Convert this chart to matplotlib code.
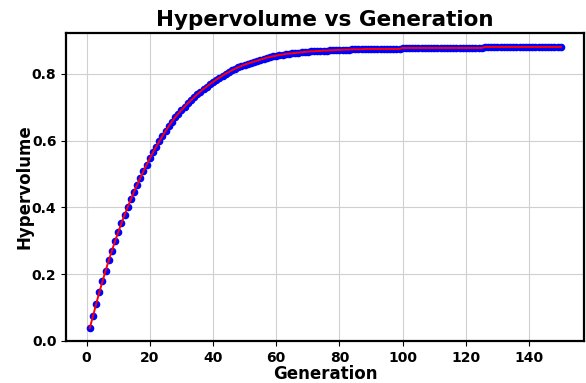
import matplotlib
matplotlib.use("Agg")
import matplotlib.pyplot as plt
import numpy as np

# hypervolume per generation
hv_early = [0.038, 0.074, 0.110, 0.145, 0.178, 0.210, 0.241, 0.270, 0.299, 0.326,
            0.352, 0.377, 0.401, 0.424, 0.447, 0.468, 0.489, 0.509, 0.528, 0.547,
            0.565, 0.582, 0.598, 0.614, 0.629, 0.643, 0.657, 0.670, 0.681, 0.692,
            0.702, 0.712, 0.721, 0.730, 0.739, 0.747, 0.755, 0.762, 0.769, 0.776]
hv_mid = [0.783, 0.789, 0.795, 0.801, 0.806, 0.811, 0.816, 0.820, 0.824, 0.828,
          0.831, 0.834, 0.837, 0.840, 0.843, 0.846, 0.849, 0.851, 0.853, 0.855,
          0.857, 0.858, 0.860, 0.861, 0.862, 0.863, 0.864, 0.865, 0.866, 0.867,
          0.868, 0.868, 0.869, 0.869, 0.870, 0.870, 0.871, 0.871, 0.872, 0.872]
hv_late = [0.873, 0.873, 0.873, 0.874, 0.874, 0.874, 0.874, 0.875, 0.875, 0.875,
           0.875, 0.875, 0.875, 0.875, 0.875, 0.875, 0.875, 0.875, 0.875]
hv_plateau1 = [0.878] * 26   # generations 100-125
hv_plateau2 = [0.881] * 25   # generations 126-150

hypervolume = hv_early + hv_mid + hv_late + hv_plateau1 + hv_plateau2
generations = np.arange(1, len(hypervolume) + 1)

fig = plt.figure(figsize=(5.86, 3.83), dpi=100)
ax = fig.add_axes([0.113, 0.110, 0.884, 0.804])

ax.scatter(generations, hypervolume, color="blue", s=20, zorder=2)
ax.plot(generations, hypervolume, color="red", linewidth=1.4, zorder=3)

ax.set_ylim(0, 0.923)
ax.set_title("Hypervolume vs Generation", fontsize=15.5, fontweight="bold", pad=5)
ax.set_xlabel("Generation", fontsize=12, fontweight="bold", labelpad=0)
ax.set_ylabel("Hypervolume", fontsize=12, fontweight="bold", labelpad=-1)
ax.grid(True, color="#d0d0d0", linewidth=0.8)
ax.set_axisbelow(True)
for lbl in ax.get_xticklabels() + ax.get_yticklabels():
    lbl.set_fontweight("bold")
    lbl.set_fontsize(10)
for sp in ax.spines.values():
    sp.set_linewidth(1.6)

fig.savefig("out.png", dpi=100)
